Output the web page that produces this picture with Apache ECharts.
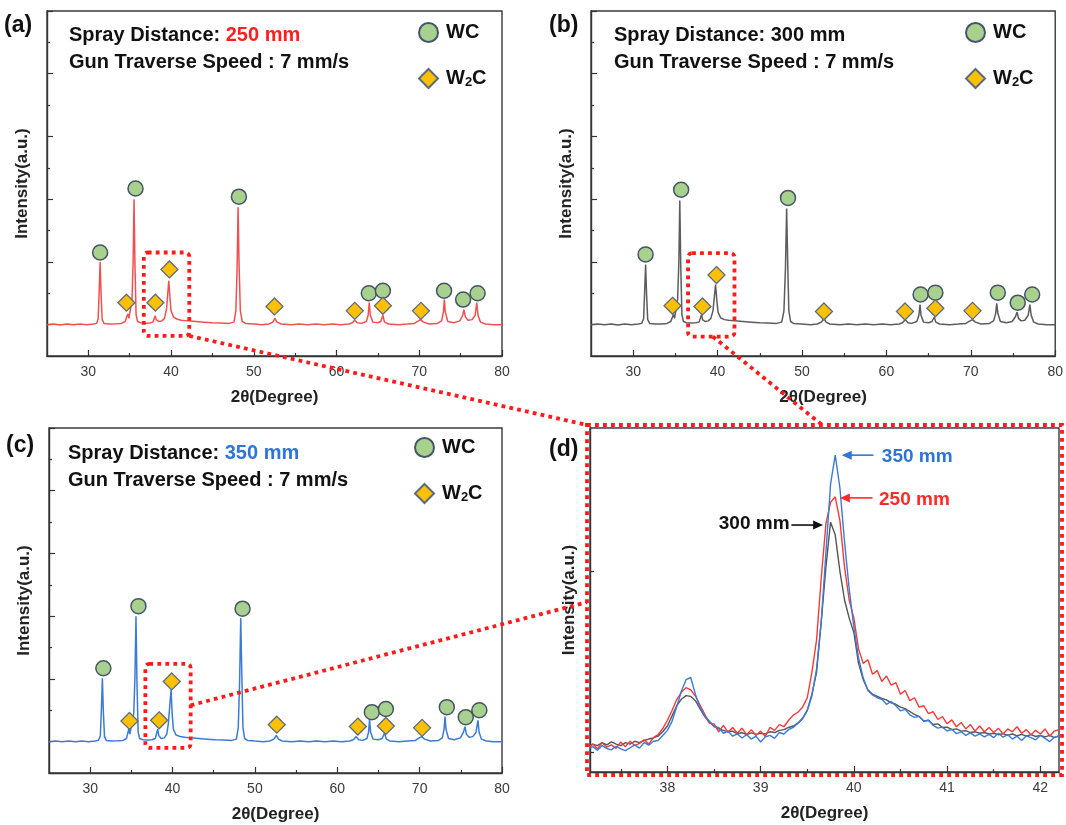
<!DOCTYPE html>
<html><head><meta charset="utf-8">
<script src="https://cdn.jsdelivr.net/npm/echarts@6/dist/echarts.min.js"></script>
<style>html,body{margin:0;padding:0;background:#fff}#c{width:1066px;height:825px}</style>
</head><body><div id="c"></div>
<script>
// ---------------- DATA ----------------
// full XRD patterns (2theta, intensity a.u.)
const patA = [[25,0.0],[25.8,0.01],[26.6,-0.005],[27.4,0.01],[28.2,0.0],[29,0.012],[29.8,0.0],[30.6,0.01],[31.0,0.02],[31.18,0.09],[31.3,0.5],[31.42,1.0],[31.54,0.48],[31.67,0.08],[31.9,0.02],[32.6,0.01],[33.4,0.015],[34.0,0.02],[34.45,0.05],[34.65,0.13],[34.78,0.17],[34.9,0.1],[35.1,0.1],[35.28,0.4],[35.41,1.0],[35.52,2.0],[35.64,0.9],[35.77,0.16],[35.95,0.05],[36.3,0.03],[36.8,0.02],[37.4,0.025],[37.8,0.04],[37.98,0.1],[38.08,0.14],[38.2,0.08],[38.5,0.05],[38.9,0.06],[39.2,0.1],[39.45,0.25],[39.6,0.5],[39.72,0.7],[39.85,0.45],[40.0,0.22],[40.3,0.12],[40.7,0.09],[41.2,0.07],[42.0,0.06],[43.0,0.05],[44.0,0.04],[45.0,0.03],[46.0,0.025],[47.0,0.02],[47.6,0.04],[47.83,0.22],[47.98,0.9],[48.1,1.87],[48.22,0.95],[48.37,0.22],[48.6,0.05],[49.0,0.02],[50.0,0.01],[51.0,0.0],[51.8,0.01],[52.3,0.04],[52.55,0.1],[52.8,0.04],[53.3,0.01],[54.5,0.0],[55.5,0.01],[56.5,0.0],[57.5,0.01],[58.5,0.0],[59.5,0.01],[60.5,0.0],[61.5,0.01],[61.9,0.03],[62.2,0.07],[62.5,0.03],[63.0,0.02],[63.6,0.05],[63.82,0.15],[63.95,0.35],[64.08,0.15],[64.4,0.04],[65.0,0.03],[65.35,0.05],[65.6,0.15],[65.8,0.04],[66.3,0.01],[67.5,0.0],[68.5,0.01],[69.4,0.02],[69.9,0.06],[70.15,0.08],[70.5,0.04],[71.2,0.01],[72.2,0.02],[72.7,0.06],[72.92,0.2],[73.03,0.4],[73.15,0.2],[73.45,0.05],[74.2,0.03],[74.9,0.06],[75.25,0.15],[75.4,0.24],[75.58,0.12],[75.9,0.07],[76.4,0.08],[76.75,0.15],[76.95,0.35],[77.1,0.15],[77.4,0.04],[78.0,0.01],[79.0,0.0],[80,0.0]];
const patB = [[25,0.0],[25.8,0.012],[26.6,0.0],[27.4,0.01],[28.2,-0.004],[29,0.01],[29.8,0.0],[30.6,0.01],[31.0,0.02],[31.23,0.09],[31.35,0.5],[31.47,0.96],[31.59,0.46],[31.72,0.08],[31.95,0.02],[32.6,0.01],[33.4,0.012],[34.0,0.02],[34.45,0.05],[34.65,0.12],[34.78,0.16],[34.9,0.1],[35.1,0.1],[35.26,0.4],[35.41,1.0],[35.52,1.98],[35.64,0.9],[35.77,0.16],[35.95,0.05],[36.3,0.03],[36.8,0.025],[37.4,0.03],[37.8,0.04],[37.98,0.11],[38.1,0.16],[38.22,0.08],[38.5,0.05],[38.9,0.06],[39.2,0.1],[39.45,0.22],[39.62,0.45],[39.76,0.64],[39.9,0.4],[40.05,0.2],[40.35,0.11],[40.8,0.08],[41.3,0.07],[42.0,0.06],[43.0,0.05],[44.0,0.04],[45.0,0.03],[46.0,0.025],[47.0,0.02],[47.6,0.04],[47.86,0.22],[48.04,0.9],[48.18,1.85],[48.31,0.95],[48.44,0.22],[48.65,0.05],[49.0,0.02],[50.0,0.01],[51.0,0.0],[51.8,0.01],[52.3,0.04],[52.6,0.1],[52.85,0.04],[53.3,0.01],[54.5,0.0],[55.5,0.01],[56.5,0.0],[57.5,0.01],[58.5,0.0],[59.5,0.01],[60.5,0.0],[61.5,0.01],[61.9,0.03],[62.25,0.08],[62.55,0.03],[63.0,0.02],[63.6,0.05],[63.85,0.15],[63.98,0.32],[64.1,0.15],[64.4,0.04],[65.0,0.03],[65.4,0.05],[65.68,0.12],[65.85,0.04],[66.3,0.01],[67.5,0.0],[68.5,0.01],[69.4,0.02],[69.9,0.06],[70.2,0.08],[70.55,0.04],[71.2,0.01],[72.2,0.02],[72.7,0.06],[72.95,0.18],[73.07,0.34],[73.2,0.18],[73.5,0.05],[74.2,0.03],[74.9,0.05],[75.3,0.13],[75.48,0.2],[75.65,0.1],[75.95,0.06],[76.4,0.07],[76.8,0.15],[77.0,0.32],[77.15,0.15],[77.45,0.04],[78.0,0.01],[79.0,0.0],[80,0.0]];
const patC = [[25,0.0],[25.8,0.01],[26.6,0.0],[27.4,0.012],[28.2,0.0],[29,0.01],[29.8,0.0],[30.6,0.01],[31.0,0.02],[31.23,0.09],[31.36,0.5],[31.48,1.01],[31.6,0.47],[31.74,0.08],[31.95,0.02],[32.6,0.01],[33.4,0.015],[34.0,0.02],[34.4,0.05],[34.58,0.14],[34.68,0.2],[34.82,0.12],[35.05,0.12],[35.29,0.45],[35.44,1.05],[35.56,2.0],[35.68,0.95],[35.82,0.16],[36.0,0.05],[36.4,0.03],[36.9,0.025],[37.5,0.03],[37.9,0.05],[38.08,0.14],[38.2,0.2],[38.32,0.1],[38.6,0.05],[39.0,0.06],[39.3,0.12],[39.5,0.3],[39.68,0.6],[39.82,0.83],[39.95,0.45],[40.1,0.2],[40.4,0.11],[40.9,0.08],[41.5,0.07],[42.2,0.06],[43.2,0.05],[44.2,0.04],[45.2,0.03],[46.2,0.025],[47.2,0.02],[47.75,0.04],[47.98,0.22],[48.14,0.95],[48.28,1.97],[48.42,1.0],[48.55,0.22],[48.75,0.05],[49.1,0.02],[50.0,0.01],[51.0,0.0],[51.8,0.01],[52.3,0.04],[52.6,0.1],[52.85,0.04],[53.3,0.01],[54.5,0.0],[55.5,0.01],[56.5,0.0],[57.5,0.01],[58.5,0.0],[59.5,0.01],[60.5,0.0],[61.5,0.01],[61.95,0.03],[62.3,0.08],[62.6,0.03],[63.1,0.02],[63.6,0.05],[63.8,0.15],[63.92,0.35],[64.05,0.15],[64.35,0.04],[65.0,0.03],[65.45,0.05],[65.75,0.14],[65.95,0.04],[66.4,0.01],[67.5,0.0],[68.5,0.01],[69.5,0.02],[69.95,0.06],[70.25,0.08],[70.6,0.04],[71.3,0.01],[72.3,0.02],[72.75,0.06],[72.97,0.2],[73.08,0.4],[73.2,0.2],[73.5,0.05],[74.2,0.03],[74.95,0.06],[75.32,0.15],[75.5,0.24],[75.68,0.12],[76.0,0.07],[76.45,0.08],[76.85,0.15],[77.08,0.34],[77.22,0.15],[77.5,0.04],[78.1,0.01],[79.0,0.0],[80,0.0]];

// phase markers
const wcA = [[31.42,1.15],[35.7,2.17],[48.2,2.04],[63.9,0.5],[65.6,0.54],[73.0,0.54],[75.3,0.4],[77.05,0.5]];
const w2cA = [[34.6,0.35],[38.1,0.35],[39.8,0.88],[52.5,0.29],[62.2,0.22],[65.6,0.3],[70.2,0.22]];
const wcB = [[31.47,1.12],[35.68,2.15],[48.34,2.02],[64.05,0.48],[65.8,0.51],[73.2,0.51],[75.56,0.35],[77.27,0.48]];
const w2cB = [[34.66,0.3],[38.2,0.29],[39.87,0.79],[52.6,0.21],[62.2,0.21],[65.8,0.26],[70.2,0.22]];
const wcC = [[31.6,1.17],[35.86,2.16],[48.5,2.12],[64.2,0.47],[65.9,0.52],[73.3,0.55],[75.6,0.39],[77.25,0.5]];
const w2cC = [[34.77,0.33],[38.37,0.34],[39.9,0.96],[52.65,0.27],[62.5,0.24],[65.9,0.25],[70.3,0.22]];

// zoomed region (d)
const dX = [37.15,37.2,37.25,37.3,37.35,37.4,37.45,37.5,37.55,37.6,37.65,37.7,37.75,37.8,37.85,37.9,37.95,38,38.05,38.1,38.15,38.2,38.25,38.3,38.35,38.4,38.45,38.5,38.55,38.6,38.65,38.7,38.75,38.8,38.85,38.9,38.95,39,39.05,39.1,39.15,39.2,39.25,39.3,39.35,39.4,39.45,39.5,39.55,39.6,39.65,39.7,39.75,39.8,39.85,39.9,39.95,40,40.05,40.1,40.15,40.2,40.25,40.3,40.35,40.4,40.45,40.5,40.55,40.6,40.65,40.7,40.75,40.8,40.85,40.9,40.95,41,41.05,41.1,41.15,41.2,41.25,41.3,41.35,41.4,41.45,41.5,41.55,41.6,41.65,41.7,41.75,41.8,41.85,41.9,41.95,42,42.05,42.1,42.15,42.2];
const d250 = [1.2,2.2,0.9,2.6,1.4,2.0,1.0,2.8,1.5,3.0,1.8,2.4,3.4,2.2,4.0,4.8,6.5,8.8,11.5,14.5,16.5,17.8,17.2,15.5,13.0,10.5,8.0,7.8,5.6,7.4,5.5,6.8,5.2,6.6,4.8,6.2,4.6,5.8,4.3,6.8,6.0,7.6,7.0,8.8,10.2,11.0,12.4,15.0,22.0,31.0,48.0,63.0,69.0,70.5,64.0,51.0,42.0,37.0,28.5,24.5,25.5,21.5,22.5,19.5,21.0,18.5,19.2,16.0,17.0,14.2,15.0,12.4,12.8,10.6,11.2,9.0,9.8,7.8,8.9,7.0,8.2,6.4,7.6,5.8,7.2,5.6,6.8,5.4,6.6,5.0,6.4,5.6,7.0,5.2,6.2,4.8,6.0,5.0,6.4,4.4,5.8,6.2];
const d300 = [1.6,2.2,1.8,2.6,2.0,2.8,2.2,1.8,2.6,2.2,3.0,2.6,3.2,3.6,3.9,4.4,5.6,7.2,10.0,12.8,14.6,15.6,15.4,14.2,12.0,9.8,8.2,7.2,6.4,6.0,5.6,5.8,5.0,5.4,4.8,5.3,4.9,5.2,5.0,5.6,5.4,6.0,6.2,6.8,7.2,8.0,9.2,11.5,16.0,22.0,36.0,51.0,63.5,60.0,50.0,42.0,37.0,33.0,24.5,20.0,17.2,16.0,15.4,14.8,14.4,13.6,13.2,12.4,12.0,11.2,10.4,9.8,8.6,8.8,7.6,7.8,6.8,6.9,6.2,6.4,5.8,5.9,5.4,5.6,5.2,5.4,5.0,5.2,4.8,5.1,4.6,5.0,4.5,4.9,4.4,4.8,4.3,4.6,4.2,4.6,4.0,4.5];
const d350 = [0.8,1.5,0.5,1.8,1.0,0.6,1.6,0.9,0.4,1.2,2.0,1.1,2.6,1.9,3.0,3.2,4.6,6.0,8.5,12.5,16.8,20.0,20.6,16.0,12.4,10.0,8.6,7.0,6.8,5.2,5.8,4.4,5.0,3.9,4.8,3.6,4.4,2.8,4.2,4.6,3.8,5.4,5.0,6.2,6.8,8.0,9.4,11.5,15.5,23.0,36.0,55.0,74.0,82.0,73.0,58.0,45.0,34.5,26.0,20.5,17.0,15.8,15.0,14.6,13.2,14.0,12.8,11.4,11.8,10.3,9.6,9.9,8.5,8.8,7.4,6.6,6.9,5.8,6.3,5.1,5.6,4.6,5.3,4.4,5.0,4.2,4.9,4.0,5.2,4.1,4.8,3.6,4.4,3.2,4.5,4.0,3.4,4.6,3.8,2.9,4.1,4.4];

// tick values
const xMajorFull = [30,40,50,60,70,80];
const xMinorFull = [35,45,55,65,75];
const yMajorFull = [0,1,2,3,4,5];
const yMinorFull = [0.5,1.5,2.5,3.5,4.5];
const xMajorD = [38,39,40,41,42];
const xMinorD = [37.5,38.5,39.5,40.5,41.5];
const yMajorD = [0,50];

// ---------------- LAYOUT / STYLE ----------------
const FONT = "'Liberation Sans', Arial, sans-serif";
const GRIDS = [[47,11,455,345],[591,11,465,345],[49,428,453,345],[590,428,469,344]];
const RANGES = [[25,80,-0.5,5],[25,80,-0.5,5],[25,80,-0.5,5],[37.17,42.2,-5.5,89.5]];
const LINE_COL = ['#f25050','#5c5c5c','#3b7bd6'];
const RED = '#ff1a1a';

function xPair(gi, r, majors, minors, gap){
  return [
    {type:'value', gridIndex:gi, min:r[0], max:r[1], position:'bottom',
     axisLine:{show:true,onZero:false,lineStyle:{color:'#333',width:1.4}},
     axisTick:{show:true,inside:true,length:6,customValues:majors,lineStyle:{color:'#333',width:1.2}},
     axisLabel:{show:true,customValues:majors,color:'#3a3a3a',fontSize:14,fontFamily:FONT,margin:9},
     splitLine:{show:false},
     name:'2θ(Degree)', nameLocation:'middle', nameGap:gap,
     nameTextStyle:{fontSize:17,fontWeight:'bold',color:'#222',fontFamily:FONT}},
    {type:'value', gridIndex:gi, min:r[0], max:r[1], position:'bottom',
     axisLine:{show:false,onZero:false},
     axisTick:{show:true,inside:true,length:3,customValues:minors,lineStyle:{color:'#333',width:1.2}},
     axisLabel:{show:false}, splitLine:{show:false}}
  ];
}
function yPair(gi, r, majors, minors, gap, len){
  return [
    {type:'value', gridIndex:gi, min:r[2], max:r[3], position:'left',
     axisLine:{show:true,onZero:false,lineStyle:{color:'#333',width:1.4}},
     axisTick:{show:true,inside:true,length:len,customValues:majors,lineStyle:{color:'#333',width:1.2}},
     axisLabel:{show:false}, splitLine:{show:false},
     name:'Intensity(a.u.)', nameLocation:'middle', nameGap:gap,
     nameTextStyle:{fontSize:17,fontWeight:'bold',color:'#222',fontFamily:FONT}},
    {type:'value', gridIndex:gi, min:r[2], max:r[3], position:'left',
     axisLine:{show:false,onZero:false},
     axisTick:{show:minors.length>0,inside:true,length:3,customValues:minors.length?minors:[0],lineStyle:{color:'#333',width:1.2}},
     axisLabel:{show:false}, splitLine:{show:false}}
  ];
}

const xAxis = [].concat(
  xPair(0,RANGES[0],xMajorFull,xMinorFull,33),
  xPair(1,RANGES[1],xMajorFull,xMinorFull,33),
  xPair(2,RANGES[2],xMajorFull,xMinorFull,33),
  xPair(3,RANGES[3],xMajorD,xMinorD,33));
const yAxis = [].concat(
  yPair(0,RANGES[0],yMajorFull,yMinorFull,16,6),
  yPair(1,RANGES[1],yMajorFull,yMinorFull,16,6),
  yPair(2,RANGES[2],yMajorFull,yMinorFull,16,6),
  yPair(3,RANGES[3],yMajorD,[],12,4));

const series = [];
[patA,patB,patC].forEach((d,p)=>{
  series.push({type:'line', xAxisIndex:2*p, yAxisIndex:2*p, data:d, symbol:'none', silent:true, z:2,
    lineStyle:{color:LINE_COL[p],width:1.5}});
});
[[wcA,w2cA],[wcB,w2cB],[wcC,w2cC]].forEach((m,p)=>{
  series.push({type:'scatter', name:'WC', xAxisIndex:2*p, yAxisIndex:2*p, data:m[0], symbol:'circle', symbolSize:15, z:5, silent:true,
    itemStyle:{color:'#a9d18e',borderColor:'#44546a',borderWidth:1.5,opacity:1}});
  series.push({type:'scatter', name:'W2C', xAxisIndex:2*p, yAxisIndex:2*p, data:m[1], symbol:'diamond', symbolSize:17, z:5, silent:true,
    itemStyle:{color:'#ffc000',borderColor:'#5d6b80',borderWidth:1.3,opacity:1}});
});
[[d300,'#555555'],[d250,'#f53a3a'],[d350,'#3b7bd6']].forEach(s=>{
  series.push({type:'line', xAxisIndex:6, yAxisIndex:6, data:dX.map((x,i)=>[x,s[0][i]]), symbol:'none', silent:true, z:2,
    lineStyle:{color:s[1],width:1.4}});
});

const richLegend = {
  b:{fontSize:20,fontWeight:'bold',fontFamily:FONT,color:'#111',verticalAlign:'bottom'},
  s:{fontSize:13,fontWeight:'bold',fontFamily:FONT,color:'#111',verticalAlign:'bottom'}
};
const LEG_POS = [[418,22],[965,22],[414,437]];
const legend = LEG_POS.map(p=>({
  left:p[0], top:p[1], orient:'vertical', itemWidth:19, itemHeight:19, itemGap:25, selectedMode:false,
  data:['WC','W2C'], padding:0,
  formatter:n=> n==='W2C' ? '{b|W}{s|2}{b|C}' : '{b|WC}',
  textStyle:{rich:richLegend, padding:[0,0,0,3]}
}));

const title = [];
[['(a)',4,14],['(b)',549,14],['(c)',6,434],['(d)',549,438]].forEach(t=>{
  title.push({text:t[0], left:t[1], top:t[2], padding:0,
    textStyle:{fontSize:23,fontWeight:'bold',color:'#111',fontFamily:FONT}});
});
[[69,22,'250 mm','#ff1f1f'],[614,22,'300 mm','#111111'],[68,440,'350 mm','#2e75d6']].forEach(t=>{
  title.push({text:'{k|Spray Distance: }{r|'+t[2]+'}\n{k|Gun Traverse Speed : 7 mm/s}', left:t[0], top:t[1], padding:0,
    textStyle:{rich:{
      k:{fontSize:20,fontWeight:'bold',color:'#111',fontFamily:FONT,lineHeight:27},
      r:{fontSize:20,fontWeight:'bold',color:t[3],fontFamily:FONT,lineHeight:27}}}});
});

const option = {
  animation:false, backgroundColor:'#ffffff', textStyle:{fontFamily:FONT},
  grid: GRIDS.map(g=>({left:g[0],top:g[1],width:g[2],height:g[3],show:true,borderColor:'#3a3a3a',borderWidth:1.4,backgroundColor:'rgba(0,0,0,0)',containLabel:false})),
  xAxis, yAxis, series, legend, title
};

const chart = echarts.init(document.getElementById('c'), null, {renderer:'canvas', width:1066, height:825});
chart.setOption(option);

// ---------------- ANNOTATIONS (dotted zoom boxes, connectors, arrows) ----------------
const P = (p,x,y)=>chart.convertToPixel({xAxisIndex:2*p, yAxisIndex:2*p},[x,y]);
const dot = {stroke:RED, lineWidth:3.8, lineDash:[3.8,4.2], fill:null};
const ZB = [[36.7,42.2,-0.18,1.15],[36.5,42.0,-0.19,1.14],[36.7,42.2,-0.1,1.24]];
const G = [];
const boxes = ZB.map((b,p)=>{const tl=P(p,b[0],b[3]), br=P(p,b[1],b[2]); return [tl[0],tl[1],br[0],br[1]];});
boxes.forEach(b=>G.push({type:'rect',silent:true,z:100,shape:{x:b[0],y:b[1],width:b[2]-b[0],height:b[3]-b[1],r:4},style:dot}));
const dTL = P(3,RANGES[3][0],RANGES[3][3]), dBR = P(3,RANGES[3][1],RANGES[3][2]);
const D = [dTL[0]-3,dTL[1]-3,dBR[0]+3,dBR[1]+3];
G.push({type:'rect',silent:true,z:100,shape:{x:D[0],y:D[1],width:D[2]-D[0],height:D[3]-D[1]},style:dot});
const b2 = P(1,39.43,-0.19), d2 = P(3,39.66,0), c3 = P(2,42.2,0.58), d3 = P(3,37.17,41.4);
G.push({type:'line',silent:true,z:100,shape:{x1:boxes[0][2],y1:boxes[0][3],x2:D[0],y2:D[1]},style:dot});
G.push({type:'line',silent:true,z:100,shape:{x1:b2[0],y1:boxes[1][3],x2:d2[0],y2:D[1]},style:dot});
G.push({type:'line',silent:true,z:100,shape:{x1:boxes[2][2],y1:c3[1],x2:D[0],y2:d3[1]},style:dot});

const ARW = [
  {tail:[40.21,82.0], tip:[39.87,82.0], color:'#2e75d6', text:'350 mm', at:[40.30,81.5], align:'left'},
  {tail:[40.20,70.2], tip:[39.85,70.2], color:'#ff2a2a', text:'250 mm', at:[40.27,69.8], align:'left'},
  {tail:[39.33,62.7], tip:[39.67,62.7], color:'#111111', text:'300 mm', at:[39.31,63.0], align:'right'}
];
ARW.forEach(a=>{
  const t=P(3,a.tail[0],a.tail[1]), h=P(3,a.tip[0],a.tip[1]);
  const dir = Math.sign(h[0]-t[0]);
  G.push({type:'line',silent:true,z:101,shape:{x1:t[0],y1:t[1],x2:h[0]-dir*7,y2:h[1]},style:{stroke:a.color,lineWidth:1.6}});
  G.push({type:'polygon',silent:true,z:101,shape:{points:[[h[0],h[1]],[h[0]-dir*10,h[1]-4.5],[h[0]-dir*10,h[1]+4.5]]},style:{fill:a.color}});
  const q=P(3,a.at[0],a.at[1]);
  G.push({type:'text',silent:true,z:101,x:q[0],y:q[1],style:{text:a.text,fill:a.color,fontSize:19,fontWeight:'bold',fontFamily:FONT,align:a.align,verticalAlign:'middle'}});
});
chart.setOption({graphic:G});
</script></body></html>
